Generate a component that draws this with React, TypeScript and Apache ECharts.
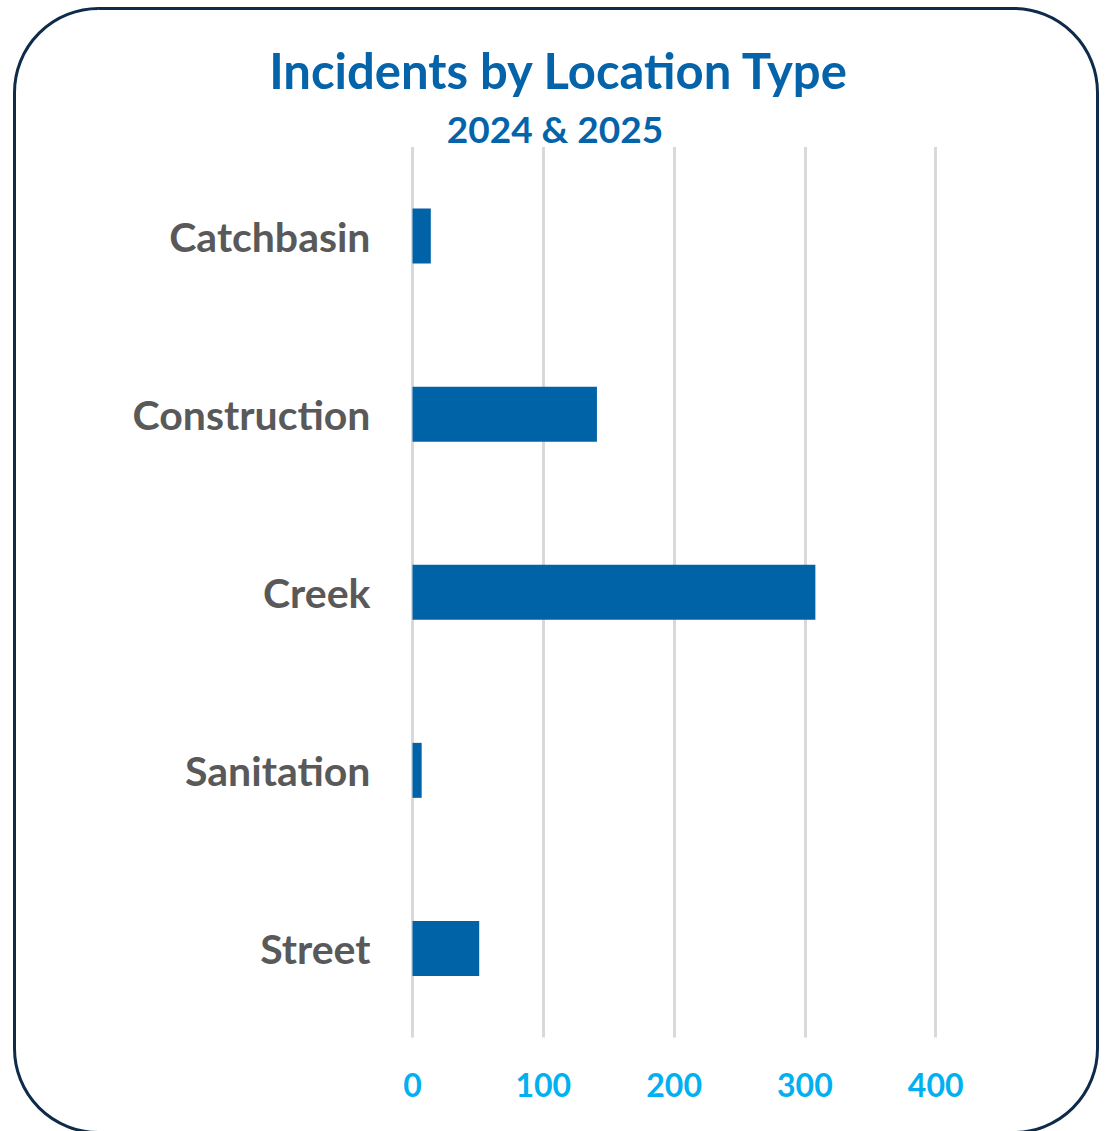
import React, { useEffect, useRef } from "react";
import * as echarts from "echarts";

const categories = ["Catchbasin", "Construction", "Creek", "Sanitation", "Street"];
const incidents = [14, 141, 308, 7, 51];
const xTicks = [0, 100, 200, 300, 400];
const titleText = "Incidents by Location Type";
const subtitleText = "2024 & 2025";

const FONT = "Lato, 'Open Sans', sans-serif";

export default function App() {
  const ref = useRef<HTMLDivElement>(null);
  useEffect(() => {
    if (!ref.current) return;
    const chart = echarts.init(ref.current, undefined, { renderer: "svg" });
    chart.setOption({
      animation: false,
      backgroundColor: "#ffffff",
      title: [
        {
          text: titleText,
          left: 553,
          top: 40,
          textAlign: "center",
          textStyle: { fontFamily: FONT, fontWeight: "bold", fontSize: 49, color: "#0563AA" },
        },
        {
          text: subtitleText,
          left: 550,
          top: 105,
          textAlign: "center",
          textStyle: { fontFamily: FONT, fontWeight: "bold", fontSize: 37, color: "#0563AA" },
        },
      ],
      graphic: [
        {
          type: "rect",
          shape: { x: 14.5, y: 8.5, width: 1083, height: 1124, r: 84 },
          style: { fill: "none", stroke: "#0E2B4A", lineWidth: 3 },
          silent: true,
          z: 100,
        },
      ],
      grid: { left: 412.5, right: 1105 - 935.7, top: 147, bottom: 1131 - 1037.5, containLabel: false },
      xAxis: {
        type: "value",
        min: xTicks[0],
        max: xTicks[xTicks.length - 1],
        interval: 100,
        axisLine: { show: false },
        axisTick: { show: false },
        splitLine: { show: true, lineStyle: { color: "#D9D9D9", width: 3 } },
        axisLabel: {
          margin: 31,
          fontFamily: FONT,
          fontWeight: "bold",
          fontSize: 32,
          color: "#00B0F0",
        },
      },
      yAxis: {
        type: "category",
        data: categories,
        inverse: true,
        axisLine: { show: false },
        axisTick: { show: false },
        splitLine: { show: false },
        axisLabel: {
          margin: 42,
          fontFamily: FONT,
          fontWeight: "bold",
          fontSize: 41,
          color: "#595959",
        },
      },
      series: [
        {
          type: "bar",
          data: incidents,
          barWidth: 55,
          itemStyle: { color: "#0063A8" },
        },
      ],
    });
    return () => chart.dispose();
  }, []);
  return (
    <div
      ref={ref}
      style={{ position: "absolute", left: 0, top: 0, width: 1105, height: 1131 }}
    />
  );
}
